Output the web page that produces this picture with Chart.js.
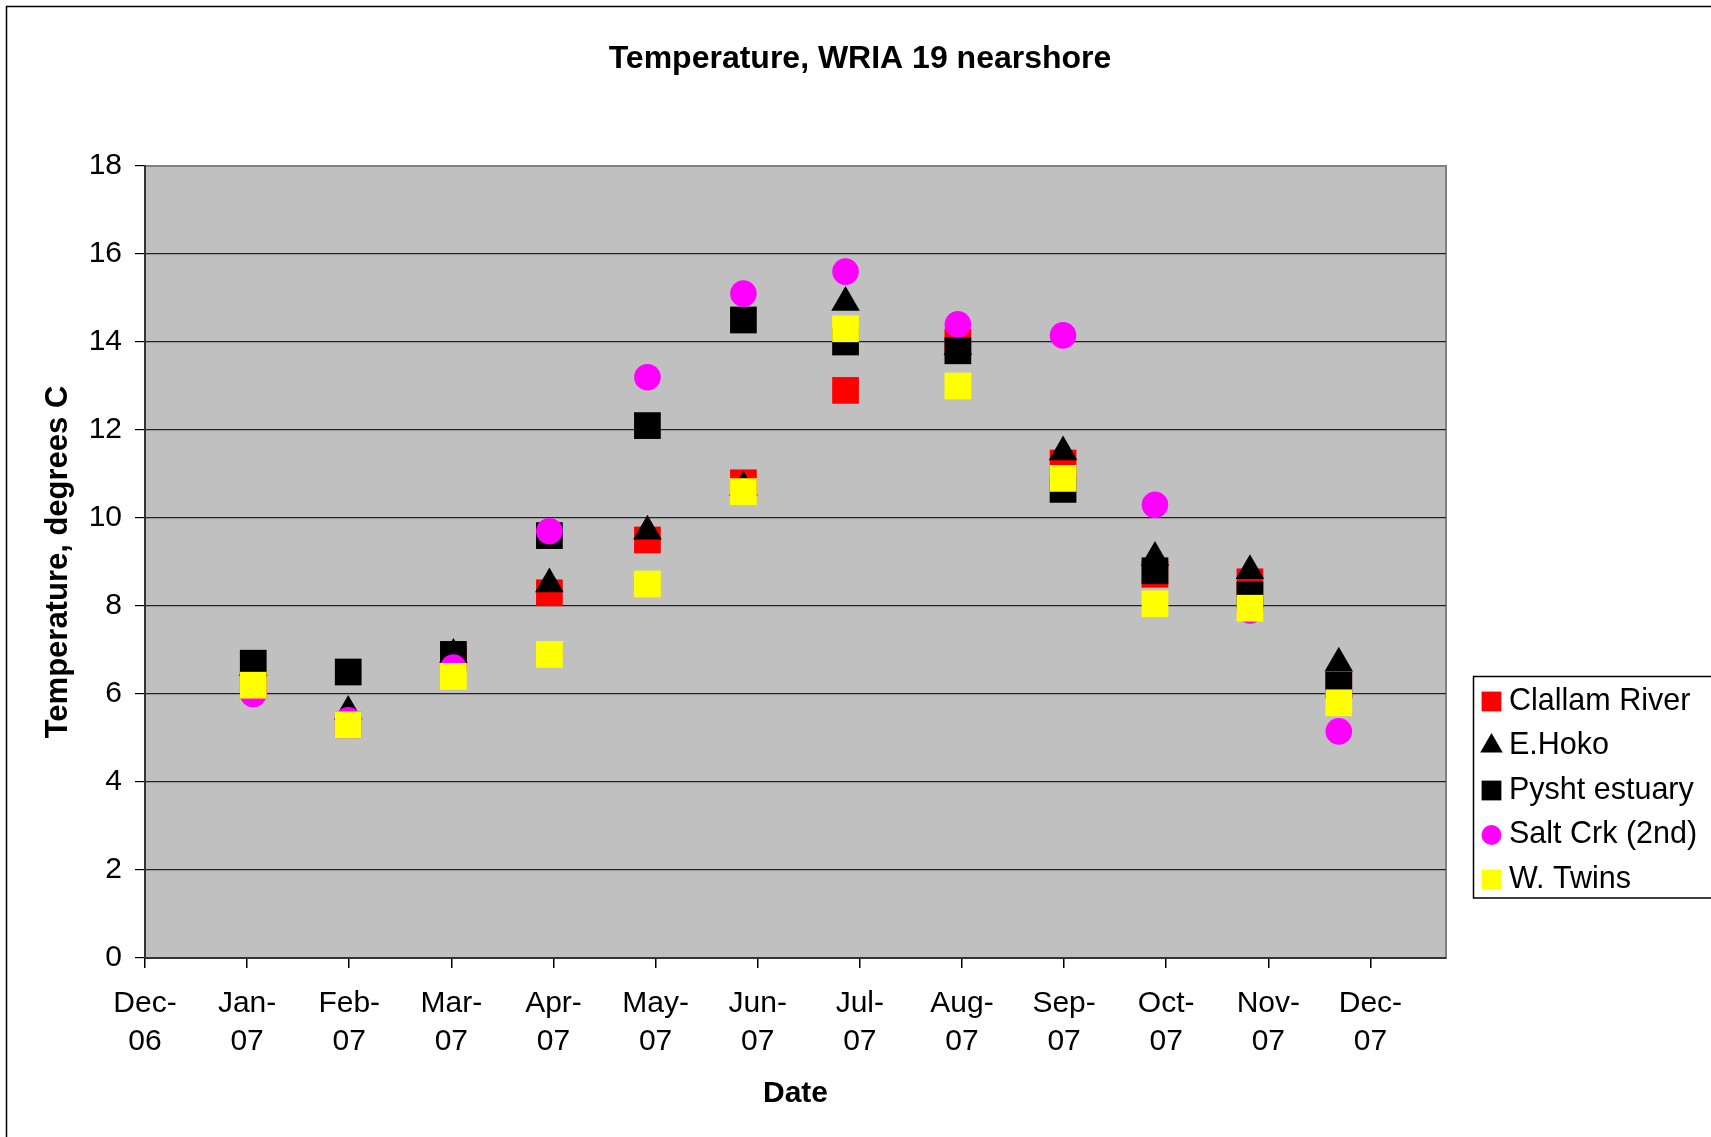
<!DOCTYPE html>
<html>
<head>
<meta charset="utf-8">
<title>Temperature, WRIA 19 nearshore</title>
<script src="https://cdn.jsdelivr.net/npm/chart.js@4.4.1/dist/chart.umd.min.js"></script>
<style>
    html, body { margin: 0; padding: 0; background: #fff; }
    canvas { display: block; }
</style>
</head>
<body>
<canvas id="temps" width="1711" height="1137"></canvas>
<script>
const tickLabels = ['Dec-06', 'Jan-07', 'Feb-07', 'Mar-07', 'Apr-07', 'May-07', 'Jun-07',
    'Jul-07', 'Aug-07', 'Sep-07', 'Oct-07', 'Nov-07', 'Dec-07'];

// sampling dates, in months after Dec-06
const sampleMonths = [1.06, 1.99, 3.02, 3.96, 4.92, 5.86, 6.86, 7.96, 8.99, 9.89, 10.82, 11.69];

const clallamRiver = [6.2, 5.3, 6.8, 8.3, 9.5, 10.8, 12.9, 14.0, 11.25, 8.72, 8.55, 6.2];
const eHoko = [6.6, 5.6, 6.9, 8.5, 9.7, 10.7, 14.9, 13.9, 11.5, 9.1, 8.8, 6.7];
const pyshtEstuary = [6.7, 6.5, 6.9, 9.6, 12.1, 14.5, 14.0, 13.8, 10.65, 8.8, 8.25, 6.2];
const saltCrk = [6.0, 5.4, 6.6, 9.7, 13.2, 15.1, 15.6, 14.4, 14.15, 10.3, 7.9, 5.15];
const wTwins = [6.2, 5.3, 6.4, 6.9, 8.5, 10.6, 14.3, 13.0, 10.9, 8.05, 7.95, 5.8];

const chartTitle = 'Temperature, WRIA 19 nearshore';

const FONT = '"Liberation Sans", Arial, sans-serif';
Chart.defaults.font.family = FONT;
Chart.defaults.color = '#000';

function points(values) {
    return sampleMonths.map((x, i) => ({ x: x, y: values[i] }));
}

// excel draws later series on top, chart.js draws lower "order" on top
const datasets = [
    { label: 'Clallam River', data: points(clallamRiver), pointStyle: 'rect', pointRadius: 18.9, backgroundColor: '#FF0000', order: 5 },
    { label: 'E.Hoko', data: points(eHoko), pointStyle: 'triangle', pointRadius: 16.5, backgroundColor: '#000000', order: 4 },
    { label: 'Pysht estuary', data: points(pyshtEstuary), pointStyle: 'rect', pointRadius: 18.9, backgroundColor: '#000000', order: 3 },
    { label: 'Salt Crk (2nd)', data: points(saltCrk), pointStyle: 'circle', pointRadius: 13.3, backgroundColor: '#FF00FF', order: 2 },
    { label: 'W. Twins', data: points(wTwins), pointStyle: 'rect', pointRadius: 18.9, backgroundColor: '#FFFF00', order: 1 },
];
datasets.forEach((ds) => {
    ds.borderWidth = 0;
    ds.pointBorderWidth = 0;
    ds.pointHoverRadius = ds.pointRadius;
    ds.showLine = false;
});

const plotBackground = {
    id: 'plotBackground',
    beforeDraw(chart) {
        const { ctx, chartArea: a } = chart;
        ctx.save();
        ctx.fillStyle = '#fff';
        ctx.fillRect(0, 0, chart.width, chart.height);
        // outer chart frame, cut by the picture on the right and bottom
        ctx.strokeStyle = '#000';
        ctx.lineWidth = 1.5;
        ctx.strokeRect(6.5, 6.5, chart.width + 50, chart.height + 50);
        ctx.fillStyle = '#C0C0C0';
        ctx.fillRect(a.left, a.top, a.right - a.left, a.bottom - a.top);
        ctx.strokeStyle = '#808080';
        ctx.lineWidth = 2;
        ctx.beginPath();
        ctx.moveTo(a.left, a.top);
        ctx.lineTo(a.right, a.top);
        ctx.lineTo(a.right, a.bottom);
        ctx.stroke();
        // title is centred on the whole chart, legend included
        ctx.fillStyle = '#000';
        ctx.font = 'bold 32px ' + FONT;
        ctx.textAlign = 'center';
        ctx.textBaseline = 'middle';
        ctx.fillText(chartTitle, 860, 59);
        ctx.restore();
    },
};

const legendRadius = { rect: 14, triangle: 13, circle: 10 };

const legendBox = {
    id: 'legendBox',
    afterDraw(chart) {
        const ctx = chart.ctx;
        ctx.save();
        ctx.fillStyle = '#fff';
        ctx.fillRect(1473.5, 676.5, 300, 221.5);
        ctx.strokeStyle = '#000';
        ctx.lineWidth = 1.5;
        ctx.strokeRect(1473.5, 676.5, 300, 221.5);
        ctx.font = '30.5px ' + FONT;
        ctx.textBaseline = 'middle';
        ctx.textAlign = 'left';
        chart.data.datasets.forEach((ds, i) => {
            const y = 701.5 + i * 44.5;
            ctx.fillStyle = ds.backgroundColor;
            Chart.helpers.drawPoint(ctx, {
                pointStyle: ds.pointStyle,
                radius: legendRadius[ds.pointStyle],
                rotation: 0,
                borderWidth: 0,
            }, 1491.5, y);
            ctx.fillStyle = '#000';
            ctx.fillText(ds.label, 1509, y);
        });
        ctx.restore();
    },
};

new Chart(document.getElementById('temps'), {
    type: 'scatter',
    data: { datasets: datasets },
    options: {
        responsive: false,
        animation: false,
        layout: { padding: { left: 0, right: 265, top: 166, bottom: 0 } },
        plugins: {
            legend: { display: false },
            tooltip: { enabled: false },
            title: { display: false },
        },
        scales: {
            x: {
                type: 'linear',
                min: 0,
                max: 12.74,
                afterFit(scale) { scale.height = 179; },
                ticks: {
                    stepSize: 1,
                    includeBounds: false,
                    autoSkip: false,
                    maxRotation: 0,
                    padding: 17,
                    color: '#000',
                    font: { size: 30, lineHeight: 1.27 },
                    callback(value) {
                        const label = tickLabels[value];
                        if (!label) return '';
                        const parts = label.split('-');
                        return [parts[0] + '-', parts[1]];
                    },
                },
                grid: { drawOnChartArea: false, tickLength: 10, color: '#000', lineWidth: 1.5 },
                border: { color: '#333', width: 2 },
                title: {
                    display: true,
                    text: 'Date',
                    color: '#000',
                    font: { size: 30, weight: 'bold', lineHeight: 1.2 },
                    padding: { top: 0, bottom: 25 },
                },
            },
            y: {
                min: 0,
                max: 18,
                afterFit(scale) { scale.width = 145; },
                ticks: {
                    stepSize: 2,
                    padding: 13,
                    color: '#000',
                    font: { size: 30 },
                },
                grid: {
                    tickLength: 10,
                    tickColor: '#000',
                    lineWidth: 1.2,
                    color: (c) => (c.tick && c.tick.value === 18 ? 'rgba(0,0,0,0)' : '#222'),
                },
                border: { color: '#333', width: 2 },
                title: {
                    display: true,
                    text: 'Temperature, degrees C',
                    color: '#000',
                    font: { size: 31, weight: 'bold', lineHeight: 1.2 },
                    padding: { top: 40, bottom: 0 },
                },
            },
        },
    },
    plugins: [plotBackground, legendBox],
});
</script>
</body>
</html>
